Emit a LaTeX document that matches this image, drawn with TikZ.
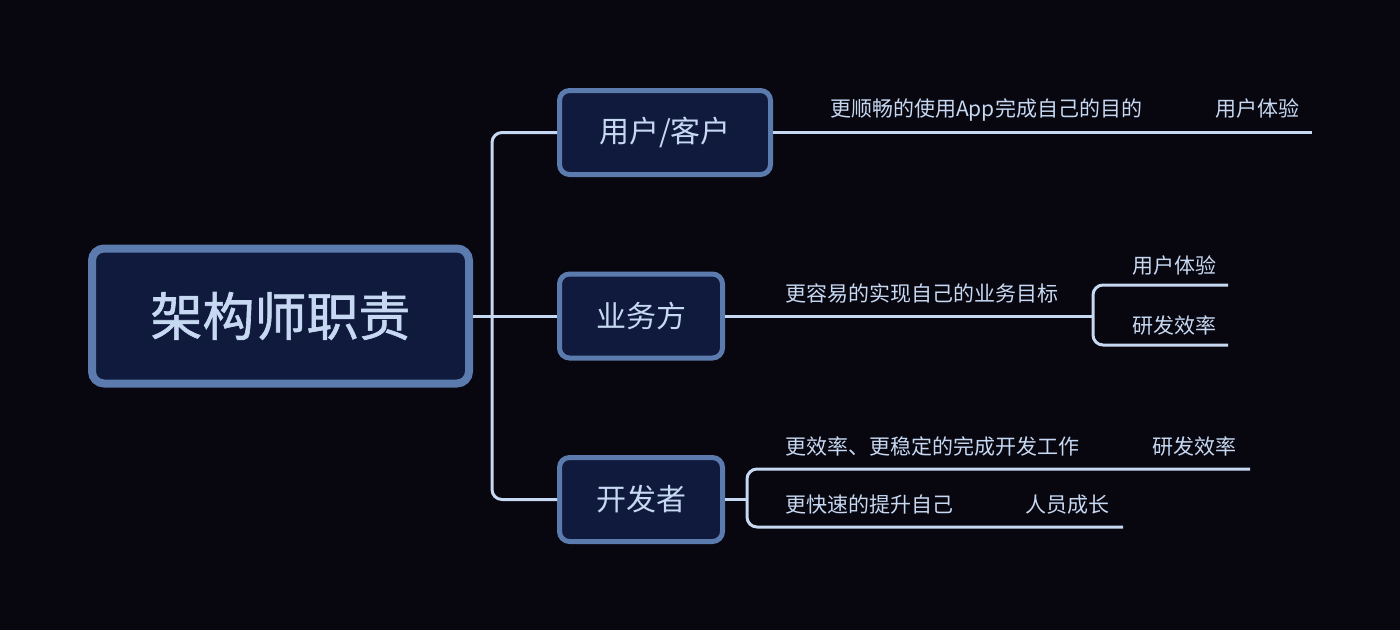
\documentclass[tikz,border=0pt]{standalone}
\usepackage{fontspec}
\setmainfont{Noto Sans CJK SC}
\newfontfamily\rootfont{Noto Sans CJK SC}[FakeBold=1.2]
\definecolor{bgdark}{HTML}{08060E}
\definecolor{boxfill}{HTML}{0F1A3C}
\definecolor{boxline}{HTML}{5B7BAE}
\definecolor{inkblue}{HTML}{C6D8F2}
\begin{document}
\begin{tikzpicture}[x=1pt, y=-1pt,
  root/.style={draw=boxline, fill=boxfill, line width=8pt, rounded corners=12pt, minimum width=377pt, minimum height=135pt, text=inkblue, font=\rootfont\fontsize{52}{60}\selectfont},
  topic/.style={draw=boxline, fill=boxfill, line width=5pt, rounded corners=10pt, minimum height=84pt, text=inkblue, font=\fontsize{30}{36}\selectfont},
  leaf/.style={text=inkblue, font=\fontsize{21}{25}\selectfont, inner sep=0pt, anchor=base west},
  link/.style={draw=inkblue, line width=3pt, rounded corners=10pt}]
\fill[bgdark] (0,0) rectangle (1400,630);
\useasboundingbox (0,0) rectangle (1400,630);
\node[root] (r) at (280.5,316) {架构师职责};
\node[topic, minimum width=211pt] (n1) at (665,132.5) {用户/客户};
\node[topic, minimum width=163pt] (n2) at (641,316) {业务方};
\node[topic, minimum width=163pt] (n3) at (641,499.5) {开发者};
% trunk from the root
\coordinate (j1) at (492,316);
\draw[link] (r.east) -- (n2.west);
\draw[link] (j1) |- (n1.west);
\draw[link] (j1) |- (n3.west);
% users
\coordinate (e1) at (1312,132.5);
\draw[link] (n1.east) -- (e1);
\node[leaf] (l1) at (830,116) {更顺畅的使用App完成自己的目的};
\node[leaf] (l1b) at (1215,116) {用户体验};
% business
\coordinate (j2) at (1093,316);
\coordinate (e2a) at (1228,285);
\coordinate (e2b) at (1228,345);
\draw[link] (n2.east) -- (j2);
\draw[link] (e2a) -| (j2) |- (e2b);
\node[leaf] (l2) at (785,301) {更容易的实现自己的业务目标};
\node[leaf] (l2a) at (1132,273) {用户体验};
\node[leaf] (l2b) at (1132,333) {研发效率};
% developers
\coordinate (j3) at (747,499.5);
\coordinate (e3a) at (1250,469);
\coordinate (e3b) at (1123,527);
\draw[link] (n3.east) -- (j3);
\draw[link] (e3a) -| (j3) |- (e3b);
\node[leaf] (l3) at (785,454) {更效率、更稳定的完成开发工作};
\node[leaf] (l3a) at (1152,454) {研发效率};
\node[leaf] (l3b) at (785,512) {更快速的提升自己};
\node[leaf] (l3c) at (1025,512) {人员成长};
\end{tikzpicture}
\end{document}
